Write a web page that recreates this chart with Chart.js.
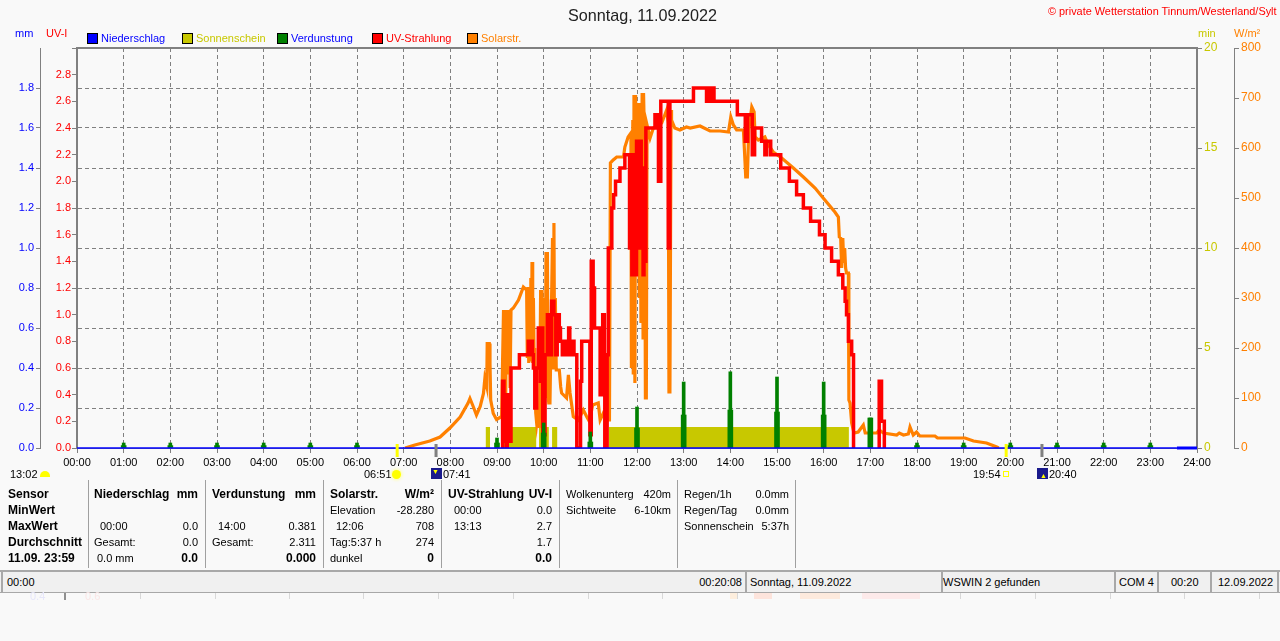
<!DOCTYPE html>
<html>
<head>
<meta charset="utf-8">
<title>Sonntag, 11.09.2022</title>
<script src="https://cdn.jsdelivr.net/npm/chart.js@4"></script>
<style>
html, body { margin: 0; padding: 0; background: #f9f9f9; }
body { width: 1280px; height: 641px; overflow: hidden; position: relative; font-family: "Liberation Sans", Arial, sans-serif; font-size: 11px; color: #000; }
#chart { position: absolute; left: 0; top: 0; }
.t { position: absolute; white-space: nowrap; line-height: 14px; height: 14px; }
.r { transform: translateX(-100%); }
.b { font-weight: bold; font-size: 12px; }
.box { position: absolute; }
</style>
</head>
<body>
<canvas id="chart" width="1280" height="641"></canvas>
<script>
// hours of the day, UV index (null = nothing drawn)
const uvTimes = [9.10, 9.12, 9.15, 9.18, 9.20, 9.22, 9.24, 9.26, 9.28, 9.30, 9.48, 9.67, 9.70, 9.72, 9.76, 9.78, 9.81, 9.85, 9.885, 9.93, 9.96, 9.98, 10.03, 10.08, 10.135, 10.17, 10.22, 10.26, 10.29, 10.335, 10.36, 10.40, 10.46, 10.49, 10.535, 10.56, 10.585, 10.65, 10.71, 10.79, 10.815, 10.99, 11.02, 11.06, 11.09, 11.21, 11.24, 11.265, 11.30, 11.31, 11.36, 11.385, 11.46, 11.50, 11.54, 11.635, 11.74, 11.84, 11.87, 11.89, 11.91, 11.93, 11.95, 11.97, 11.99, 12.01, 12.03, 12.05, 12.07, 12.09, 12.11, 12.13, 12.15, 12.17, 12.19, 12.385, 12.46, 12.51, 12.67, 12.705, 13.21, 13.49, 13.53, 13.565, 13.60, 13.65, 14.15, 14.32, 14.37, 14.47, 14.52, 14.67, 14.74, 14.78, 14.865, 15.08, 15.265, 15.42, 15.565, 15.72, 15.91, 16.03, 16.17, 16.315, 16.41, 16.46, 16.49, 16.53, 16.60, 16.64, 16.65, 17.17, 17.18, 17.19, 17.24, 17.30];
const uvValues = [0, 0.5, 0.05, 0.4, 0, 0.4, 0.1, 0.4, 0.05, 0.6, 0.7, 0.8, 0.7, 0.8, 0.7, 0.6, 0.3, 0.6, 0.9, 0.5, 0.9, 0.1, 0.7, 1.0, 0.7, 1.1, 1.0, 0.7, 1.0, 0.9, 0.8, 0.7, 0.8, 0.7, 0.9, 0.7, 0.8, 0.7, 0, 0.5, 0.8, 0.1, 1.4, 1.2, 0.9, 0.4, 0.9, 1.0, 0.6, 0, 0.7, 1.5, 1.8, 1.9, 2.0, 2.1, 2.2, 1.5, 2.2, 1.3, 2.2, 1.5, 2.2, 1.3, 2.3, 1.5, 2.3, 1.6, 2.3, 1.5, 2.1, 1.3, 2.0, 1.4, 2.4, 2.5, 2.0, 2.6, 1.5, 2.6, 2.7, 2.6, 2.7, 2.6, 2.7, 2.6, 2.5, 2.3, 2.5, 2.2, 2.4, 2.3, 2.2, 2.3, 2.2, 2.1, 2.0, 1.9, 1.8, 1.7, 1.6, 1.5, 1.4, 1.3, 1.2, 1.1, 1.0, 0.8, 0.7, 0, null, null, 0, 0.5, 0.2, 0];

// hours of the day, W/m2
const solarTimes = [7.03, 7.24, 7.56, 7.78, 7.99, 8.21, 8.38, 8.42, 8.49, 8.56, 8.64, 8.71, 8.74, 8.78, 8.79, 8.835, 8.85, 8.865, 8.92, 8.99, 9.10, 9.12, 9.14, 9.155, 9.17, 9.185, 9.20, 9.215, 9.23, 9.245, 9.265, 9.28, 9.30, 9.35, 9.46, 9.565, 9.635, 9.65, 9.665, 9.68, 9.695, 9.71, 9.725, 9.74, 9.75, 9.765, 9.78, 9.795, 9.81, 9.83, 9.85, 9.885, 9.91, 9.935, 9.95, 9.965, 9.98, 10.0, 10.02, 10.035, 10.05, 10.065, 10.08, 10.095, 10.11, 10.135, 10.17, 10.19, 10.20, 10.22, 10.235, 10.25, 10.27, 10.29, 10.335, 10.365, 10.385, 10.49, 10.53, 10.565, 10.635, 10.74, 10.85, 10.92, 10.98, 11.05, 11.17, 11.21, 11.28, 11.385, 11.41, 11.43, 11.49, 11.565, 11.71, 11.74, 11.81, 11.87, 11.88, 11.91, 11.92, 11.935, 11.955, 11.97, 11.99, 12.03, 12.05, 12.065, 12.085, 12.11, 12.13, 12.14, 12.165, 12.18, 12.20, 12.215, 12.28, 12.35, 12.53, 12.635, 12.67, 12.685, 12.705, 12.73, 12.74, 12.81, 12.92, 13.06, 13.14, 13.35, 13.565, 13.78, 13.96, 14.01, 14.065, 14.135, 14.28, 14.30, 14.33, 14.365, 14.395, 14.46, 14.51, 14.53, 14.60, 14.74, 14.815, 14.92, 15.10, 15.35, 15.565, 15.815, 15.99, 16.24, 16.315, 16.335, 16.365, 16.385, 16.41, 16.43, 16.45, 16.47, 16.49, 16.53, 16.54, 16.565, 16.60, 16.65, 16.74, 16.85, 16.89, 17.14, 17.19, 17.28, 17.565, 17.62, 17.71, 17.815, 17.85, 17.92, 17.99, 18.06, 18.385, 18.44, 19.03, 19.21, 19.49, 19.71, 19.75];
const solarValues = [0, 6, 14, 22, 40, 62, 90, 99, 83, 66, 83, 109, 139, 123, 209, 209, 169, 96, 69, 57, 63, 176, 276, 100, 276, 80, 276, 150, 276, 176, 276, 120, 276, 280, 296, 322, 316, 180, 322, 170, 322, 176, 340, 176, 372, 170, 300, 176, 200, 70, 50, 80, 40, 316, 60, 316, 316, 60, 300, 100, 392, 100, 392, 100, 90, 90, 300, 420, 160, 450, 160, 300, 156, 156, 156, 122, 110, 100, 146, 110, 63, 56, 76, 63, 53, 86, 90, 56, 70, 56, 56, 570, 576, 582, 582, 602, 622, 630, 160, 656, 150, 706, 130, 706, 400, 690, 300, 690, 250, 710, 220, 710, 600, 100, 100, 646, 620, 640, 650, 676, 650, 112, 112, 676, 656, 640, 636, 642, 640, 644, 634, 634, 632, 662, 646, 636, 636, 600, 542, 542, 636, 682, 672, 622, 616, 622, 606, 592, 580, 560, 542, 520, 500, 472, 462, 422, 420, 360, 420, 370, 400, 360, 350, 350, 96, 90, 50, 30, 32, 46, 30, 30, 36, 30, 26, 30, 26, 28, 42, 26, 32, 24, 24, 20, 20, 14, 10, 2, 0];

// sunshine minutes, blocks
const sunTimes = [0, 8.76, 8.85, 9.15, 9.84, 9.90, 10.11, 10.18, 10.29, 11.40, 16.54, 24];
const sunValues = [0, 1.05, 0, 1.05, 0, 1.05, 0, 1.05, 0, 1.05, 0, 0];

// evaporation per hour, mm
const evapHours = [1, 2, 3, 4, 5, 6, 9, 10, 11, 12, 13, 14, 15, 16, 17, 18, 19, 20, 21, 22, 23];
const evapPeak = [0.025, 0.025, 0.025, 0.025, 0.025, 0.025, 0.05, 0.125, 0.08, 0.205, 0.33, 0.381, 0.355, 0.33, 0.15, 0.025, 0.025, 0.025, 0.025, 0.025, 0.025];
const evapLow = [0.012, 0.012, 0.012, 0.012, 0.012, 0.012, 0.025, 0.075, 0.03, 0.1, 0.165, 0.19, 0.18, 0.165, 0.15, 0.012, 0.012, 0.012, 0.012, 0.012, 0.012];

const rainTimes = [0, 23.57, 24];
const rainValues = [0, 0, 0];

const mmTicks = [0, 0.2, 0.4, 0.6, 0.8, 1.0, 1.2, 1.4, 1.6, 1.8];
const legendNames = ['Niederschlag', 'Sonnenschein', 'Verdunstung', 'UV-Strahlung', 'Solarstr.'];
const legendTextColors = ['#0000ff', '#c8c800', '#0000ff', '#ff0000', '#ff8000'];
const legendBoxColors = ['#0000ff', '#c8c800', '#008000', '#ff0000', '#ff8000'];

// sunrise / moon marks under the axis
const markHours = [6.85, 7.683, 19.9, 20.667];
const markColors = ['#ffff00', '#808080', '#ffff00', '#808080'];

function pairs(xs, ys) {
  return xs.map((x, i) => ({ x: x, y: ys[i] }));
}

const frame = {
  id: 'frame',
  beforeDatasetsDraw(chart) {
    const a = chart.chartArea;
    const c = chart.ctx;
    c.save();
    c.strokeStyle = '#808080';
    c.lineWidth = 2;
    c.beginPath();
    c.moveTo(a.left, a.bottom);
    c.lineTo(a.left, a.top);
    c.lineTo(a.right, a.top);
    c.lineTo(a.right, a.bottom);
    c.stroke();
    c.lineWidth = 1;
    c.beginPath();
    c.moveTo(a.left, a.bottom + 0.5);
    c.lineTo(a.right, a.bottom + 0.5);
    c.stroke();
    c.restore();
  },
  afterDatasetsDraw(chart) {
    const c = chart.ctx;
    const a = chart.chartArea;
    c.save();
    markHours.forEach((h, i) => {
      const x = chart.scales.x.getPixelForValue(h);
      c.fillStyle = markColors[i];
      c.fillRect(x - 1, a.bottom - 4, 3, 13);
    });
    c.restore();
  }
};

const tickFont = { family: '"Liberation Sans", Arial, sans-serif', size: 11 };

new Chart(document.getElementById('chart'), {
  type: 'line',
  plugins: [frame],
  data: {
    datasets: [
      { label: 'Niederschlag', data: pairs(rainTimes, rainValues), yAxisID: 'mm', borderColor: '#0000ff', borderWidth: 1.5, pointRadius: 0, order: 0, clip: false,
        segment: { borderWidth: ctx => ctx.p0.parsed.x >= 23.57 ? 3 : 1.5 } },
      { type: 'bar', label: 'Verdunstung', data: pairs(evapHours, evapPeak), yAxisID: 'mm', backgroundColor: '#008000', barThickness: 3, grouped: false, order: 1 },
      { type: 'bar', label: 'Verdunstung2', data: pairs(evapHours, evapLow), yAxisID: 'mm', backgroundColor: '#008000', barThickness: 5, grouped: false, order: 1 },
      { label: 'UV-Strahlung', data: pairs(uvTimes, uvValues), yAxisID: 'uv', borderColor: '#ff0000', borderWidth: 3.5, pointRadius: 0, stepped: true, order: 2 },
      { label: 'Solarstr.', data: pairs(solarTimes, solarValues), yAxisID: 'w', borderColor: '#ff8000', borderWidth: 3.2, pointRadius: 0, order: 3 },
      { label: 'Sonnenschein', data: pairs(sunTimes, sunValues), yAxisID: 'min', borderWidth: 0, backgroundColor: '#c8c800', fill: 'origin', pointRadius: 0, stepped: true, order: 4 }
    ]
  },
  options: {
    responsive: false,
    animation: false,
    events: [],
    layout: { padding: { top: 48, bottom: 163, left: 0, right: 0 } },
    plugins: { legend: { display: false }, tooltip: { enabled: false }, title: { display: false } },
    scales: {
      x: {
        type: 'linear', min: 0, max: 24, offset: false,
        grid: { offset: false, color: '#808080', tickLength: 5, lineWidth: 1, tickColor: '#808080' },
        border: { dash: [4, 3], color: '#808080' },
        ticks: { stepSize: 1, autoSkip: false, maxRotation: 0, color: '#000', font: tickFont, padding: 3, callback: v => String(v).padStart(2, '0') + ':00' },
        afterFit(s) { s.height = 30; }
      },
      mm: {
        position: 'left', weight: 1, min: 0, max: 2,
        grid: { color: '#808080', tickLength: 4, tickColor: '#808080' },
        border: { dash: [4, 3], color: '#808080' },
        afterBuildTicks(s) { s.ticks = mmTicks.map(v => ({ value: v })); },
        ticks: { color: '#0000ff', font: tickFont, padding: 2, callback: v => v.toFixed(1) },
        afterFit(s) { s.width = 40; }
      },
      uv: {
        position: 'left', weight: 0, min: 0, max: 3,
        grid: { drawOnChartArea: false, tickLength: 5, tickColor: '#808080' },
        border: { display: false },
        ticks: { stepSize: 0.2, color: '#ff0000', font: tickFont, padding: 1, callback: v => v < 2.9 ? v.toFixed(1) : '' },
        afterFit(s) { s.width = 37; }
      },
      min: {
        position: 'right', weight: 0, min: 0, max: 20,
        grid: { drawOnChartArea: false, tickLength: 5, tickColor: '#808080' },
        border: { display: false },
        ticks: { stepSize: 5, color: '#c8c800', font: Object.assign({}, tickFont, { size: 12 }), padding: 2 },
        afterFit(s) { s.width = 37; }
      },
      w: {
        position: 'right', weight: 1, min: 0, max: 800,
        grid: { drawOnChartArea: false, tickLength: 5, tickColor: '#808080' },
        border: { color: '#808080' },
        ticks: { stepSize: 100, color: '#ff8000', font: Object.assign({}, tickFont, { size: 12 }), padding: 2 },
        afterFit(s) { s.width = 46; }
      }
    }
  }
});

// everything round the chart: header, legend, table, status bar
function put(text, x, y, cls, color, size) {
  const d = document.createElement('div');
  d.className = 't ' + (cls || '');
  d.textContent = text;
  d.style.left = x + 'px';
  d.style.top = (y - 7) + 'px';
  if (color) d.style.color = color;
  if (size) d.style.fontSize = size + 'px';
  document.body.appendChild(d);
  return d;
}
function box(x, y, w, h, bg) {
  const d = document.createElement('div');
  d.className = 'box';
  d.style.cssText = 'left:' + x + 'px;top:' + y + 'px;width:' + w + 'px;height:' + h + 'px;background:' + bg;
  document.body.appendChild(d);
  return d;
}

put('Sonntag, 11.09.2022', 568, 15, '', '#222', 16.2);
put('© private Wetterstation Tinnum/Westerland/Sylt', 1048, 11, '', '#ff0000', 10.9);
put('mm', 15, 33, '', '#0000ff');
put('UV-I', 46, 33, '', '#ff0000');
put('min', 1198, 33, '', '#c8c800');
put('W/m²', 1234, 33, '', '#ff8000');

legendNames.forEach((name, i) => {
  const x = 87 + i * 95;
  const b = box(x, 33, 9, 9, legendBoxColors[i]);
  b.style.border = '1px solid #000';
  put(name, x + 14, 38, '', legendTextColors[i]);
});

// sun and moon labels under the time axis
put('13:02', 10, 474);
const noon = box(40, 471, 10, 6, '#ffff00');
noon.style.borderRadius = '5px 5px 0 0';
put('06:51', 364, 474);
const sunUp = box(392, 470, 9, 9, '#ffff00');
sunUp.style.borderRadius = '50%';
sunUp.style.boxShadow = '0 0 3px 1px #ffffa0';
box(431, 468, 11, 11, '#1a1a8c');
put('▼', 432, 472, '', '#ffff00', 7);
put('07:41', 443, 474);
put('19:54', 973, 474);
const sunDown = box(1003, 471, 4, 4, 'transparent');
sunDown.style.border = '1px solid #ffff00';
box(1037, 468, 11, 11, '#1a1a8c');
put('▲', 1040, 476, '', '#ffff00', 7);
put('20:40', 1049, 474);

// table
const rowY = [494, 510, 526, 542, 558];
const sepX = [88, 205, 323, 441, 559, 677, 795];
sepX.forEach(x => box(x, 480, 1, 88, '#a0a0a0'));

const sensorLabels = ['Sensor', 'MinWert', 'MaxWert', 'Durchschnitt', '11.09. 23:59'];
sensorLabels.forEach((s, i) => put(s, 8, rowY[i], 'b'));

// x, row, text, style: r right aligned, b bold
const tableCells = [
  [94, 0, 'Niederschlag', 'b'], [198, 0, 'mm', 'r b'],
  [100, 2, '00:00', ''], [198, 2, '0.0', 'r'],
  [94, 3, 'Gesamt:', ''], [198, 3, '0.0', 'r'],
  [97, 4, '0.0 mm', ''], [198, 4, '0.0', 'r b'],
  [212, 0, 'Verdunstung', 'b'], [316, 0, 'mm', 'r b'],
  [218, 2, '14:00', ''], [316, 2, '0.381', 'r'],
  [212, 3, 'Gesamt:', ''], [316, 3, '2.311', 'r'],
  [316, 4, '0.000', 'r b'],
  [330, 0, 'Solarstr.', 'b'], [434, 0, 'W/m²', 'r b'],
  [330, 1, 'Elevation', ''], [434, 1, '-28.280', 'r'],
  [336, 2, '12:06', ''], [434, 2, '708', 'r'],
  [330, 3, 'Tag:5:37 h', ''], [434, 3, '274', 'r'],
  [330, 4, 'dunkel', ''], [434, 4, '0', 'r b'],
  [448, 0, 'UV-Strahlung', 'b'], [552, 0, 'UV-I', 'r b'],
  [454, 1, '00:00', ''], [552, 1, '0.0', 'r'],
  [454, 2, '13:13', ''], [552, 2, '2.7', 'r'],
  [552, 3, '1.7', 'r'],
  [552, 4, '0.0', 'r b'],
  [566, 0, 'Wolkenunterg', ''], [671, 0, '420m', 'r'],
  [566, 1, 'Sichtweite', ''], [671, 1, '6-10km', 'r'],
  [684, 0, 'Regen/1h', ''], [789, 0, '0.0mm', 'r'],
  [684, 1, 'Regen/Tag', ''], [789, 1, '0.0mm', 'r'],
  [684, 2, 'Sonnenschein', ''], [789, 2, '5:37h', 'r']
];
tableCells.forEach(c => put(c[2], c[0], rowY[c[1]], c[3]));

// status bar
box(0, 570, 1280, 2, '#a8a8a8');
box(0, 572, 1280, 20, '#f0f0f0');
box(0, 592, 1280, 1, '#a8a8a8');
[1, 745, 941, 1114, 1157, 1210, 1277].forEach(x => box(x, 572, 2, 20, '#a8a8a8'));
put('00:00', 7, 582);
put('00:20:08', 742, 582, 'r');
put('Sonntag, 11.09.2022', 750, 582);
put('WSWIN 2 gefunden', 943, 582);
put('COM 4', 1119, 582);
put('00:20', 1171, 582);
put('12.09.2022', 1218, 582);

// faint leftovers under the status bar
const ghostX = [140, 215, 289, 363, 438, 513, 588, 662, 737, 812, 960, 1035, 1110, 1184, 1259];
ghostX.forEach(x => box(x, 593, 1, 6, '#d8d8d8'));
box(64, 593, 2, 7, '#909090');
put('0.4', 30, 596, '', '#e6e6fa');
put('0.6', 85, 596, '', '#fae6e6');
box(730, 593, 7, 6, '#fdeedd');
box(754, 593, 18, 6, '#fde4dc');
box(800, 593, 40, 6, '#fdeadd');
box(862, 593, 58, 6, '#fdeaea');
</script>
</body>
</html>
